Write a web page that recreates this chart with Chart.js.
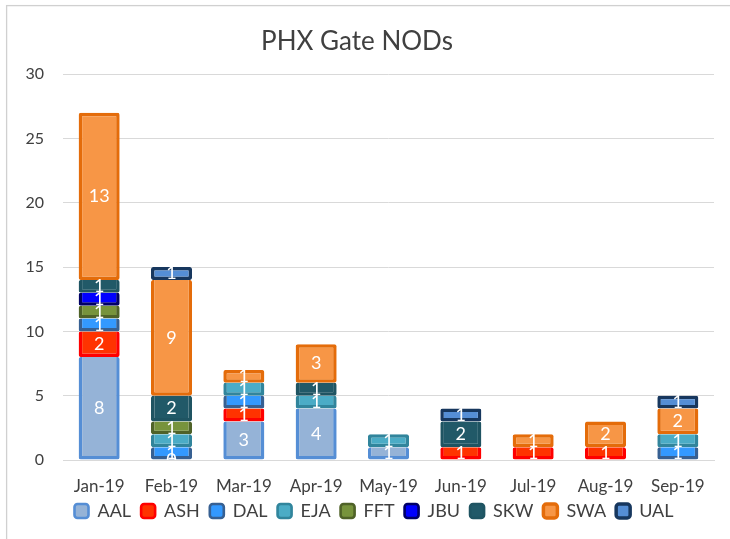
<!DOCTYPE html>
<html>
<head>
<meta charset="utf-8">
<script src="https://cdn.jsdelivr.net/npm/chart.js@4/dist/chart.umd.min.js"></script>
<style>
  html, body { margin: 0; padding: 0; background: #fff; }
  #wrap { position: relative; width: 730px; height: 539px; }
</style>
</head>
<body>
<div id="wrap"><canvas id="c" width="730" height="539"></canvas></div>
<script>
const months = ['Jan-19','Feb-19','Mar-19','Apr-19','May-19','Jun-19','Jul-19','Aug-19','Sep-19'];
const AAL = [8, 0, 3, 4, 1, null, null, null, null];
const ASH = [2, null, 1, null, null, 1, 1, 1, null];
const DAL = [1, 1, 1, null, null, null, null, null, 1];
const EJA = [null, 1, 1, 1, 1, null, null, null, 1];
const FFT = [1, 1, null, null, null, null, null, null, null];
const JBU = [1, null, null, null, null, null, null, null, null];
const SKW = [1, 2, null, 1, null, 2, null, null, null];
const SWA = [13, 9, 1, 3, null, null, 1, 2, 2];
const UAL = [null, 1, null, null, null, 1, null, null, 1];
const yTicks = [0, 5, 10, 15, 20, 25, 30];

const FONT = 'Lato, "Open Sans", "DejaVu Sans", sans-serif';
const series = [AAL, ASH, DAL, EJA, FFT, JBU, SKW, SWA, UAL];
const BW = 3.5;

function isTopOfStack(i, j) {
  for (let k = i + 1; k < series.length; k++) {
    const v = series[k][j];
    if (v !== null && v !== undefined && v !== 0) return false;
  }
  return true;
}

function ds(label, data, fill, border) {
  return {
    label, data,
    backgroundColor: fill,
    borderColor: border,
    borderWidth: (c) => {
      if (c.dataIndex === undefined || c.type !== 'data') return {top: 3, bottom: 3, left: 3, right: 3};
      const top = isTopOfStack(c.datasetIndex, c.dataIndex) ? BW : 0;
      return {top, bottom: BW, left: BW, right: BW};
    },
    borderSkipped: false,
    borderRadius: {topLeft: 2, topRight: 2, bottomLeft: 2, bottomRight: 2},
    barPercentage: 0.567,
    categoryPercentage: 1.0
  };
}

const valueLabels = {
  id: 'valueLabels',
  afterDatasetsDraw(chart) {
    const ctx = chart.ctx;
    const a = chart.chartArea;
    ctx.save();
    ctx.beginPath();
    ctx.rect(a.left, a.top, a.right - a.left, a.bottom - a.top);
    ctx.clip();
    ctx.fillStyle = '#ffffff';
    ctx.font = '18px ' + FONT;
    ctx.textAlign = 'center';
    ctx.textBaseline = 'middle';
    chart.data.datasets.forEach((d, i) => {
      const meta = chart.getDatasetMeta(i);
      meta.data.forEach((el, j) => {
        const v = d.data[j];
        if (v === null || v === undefined) return;
        const p = el.getProps(['x', 'y', 'base'], true);
        ctx.fillText(String(v), p.x, (p.y + p.base) / 2);
      });
    });
    ctx.restore();
  }
};

const PLOT_BOTTOM = 460;
const frame = {
  id: 'frame',
  beforeDraw(chart) {
    const ctx = chart.ctx;
    ctx.save();
    ctx.fillStyle = '#ffffff';
    ctx.fillRect(0, 0, chart.width, chart.height);
    ctx.strokeStyle = '#d0d0d0';
    ctx.lineWidth = 1.3;
    ctx.strokeRect(6.6, 5.6, 900, 900);
    ctx.restore();
  },
  afterLayout(chart) {
    const lg = chart.legend;
    if (lg) {
      const w = lg.right - lg.left;
      const h = lg.bottom - lg.top;
      lg.left = 64.5;
      lg.right = 64.5 + w;
      lg.top = 492;
      lg.bottom = 492 + h;
    }
  }
};

new Chart(document.getElementById('c'), {
  type: 'bar',
  data: {
    labels: months,
    datasets: [
      ds('AAL', AAL, '#95b3d7', '#558ed5'),
      ds('ASH', ASH, '#ff3300', '#ff0000'),
      ds('DAL', DAL, '#3399ff', '#376092'),
      ds('EJA', EJA, '#4bacc6', '#31859c'),
      ds('FFT', FFT, '#77933c', '#4f6228'),
      ds('JBU', JBU, '#0000ff', '#000066'),
      ds('SKW', SKW, '#215968', '#1f5462'),
      ds('SWA', SWA, '#f79646', '#e46c0a'),
      ds('UAL', UAL, '#558ed5', '#17375e')
    ]
  },
  options: {
    responsive: false,
    animation: false,
    devicePixelRatio: 1,
    layout: { padding: { left: 0, right: 16, top: 0, bottom: 0 } },
    plugins: {
      title: {
        display: true,
        text: 'PHX Gate NODs',
        color: '#404040',
        font: { family: FONT, size: 26, weight: 'normal' },
        padding: { top: 26, bottom: 17 }
      },
      legend: {
        display: true,
        position: 'bottom',
        align: 'start',
        labels: {
          color: '#404040',
          font: { family: FONT, size: 18 },
          boxWidth: 14,
          boxHeight: 14,
          padding: 10,
          useBorderRadius: true,
          borderRadius: 3
        }
      },
      tooltip: { enabled: false }
    },
    scales: {
      x: {
        stacked: true,
        afterFit(s) {
          const lh = s.chart.legend ? s.chart.legend.height : 0;
          s.height = Math.max(1, s.chart.height - PLOT_BOTTOM - lh);
        },
        grid: { display: false, drawTicks: false },
        border: { display: true, color: '#d9d9d9' },
        ticks: { color: '#404040', font: { family: FONT, size: 17 }, padding: 16, maxRotation: 0 }
      },
      y: {
        stacked: true,
        min: 0,
        max: 30,
        afterFit(s) { s.width = 63; },
        afterBuildTicks(s) { s.ticks = yTicks.map(v => ({ value: v })); },
        grid: { color: '#d9d9d9', lineWidth: 1, drawTicks: false },
        border: { display: false },
        ticks: { color: '#404040', font: { family: FONT, size: 16 }, padding: 19 }
      }
    }
  },
  plugins: [frame, valueLabels]
});
</script>
</body>
</html>
